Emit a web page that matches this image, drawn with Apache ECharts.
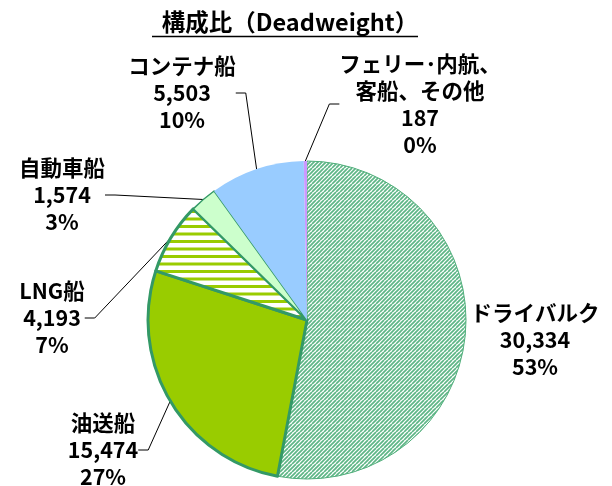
<!DOCTYPE html>
<html>
<head>
<meta charset="utf-8">
<script src="https://cdn.jsdelivr.net/npm/echarts@6/dist/echarts.min.js"></script>
<style>
html,body{margin:0;padding:0;background:#fff;}
#chart{width:612px;height:486px;}
</style>
</head>
<body>
<div id="chart"></div>
<script>
// ---- data ----
var categories = ['ドライバルク', '油送船', 'LNG船', '自動車船', 'コンテナ船', 'フェリー･内航、\n客船、その他'];
var values = [30334, 15474, 4193, 1574, 5503, 187];
var titleText = '構成比（Deadweight）';

// ---- layout (label block centres) ----
var labelPos = [[535, 340], [103, 450], [52, 318], [62, 195], [182, 93], [420, 104]];

function makePattern(kind) {
  var c = document.createElement('canvas');
  var ctx = c.getContext('2d');
  if (kind === 'diag') {
    c.width = 8; c.height = 8;
    ctx.fillStyle = '#ffffff'; ctx.fillRect(0, 0, 8, 8);
    ctx.strokeStyle = '#5db585'; ctx.lineWidth = 1.7;
    for (var o = -8; o <= 16; o += 4) {
      ctx.beginPath(); ctx.moveTo(o, 8); ctx.lineTo(o + 8, 0); ctx.stroke();
    }
  } else {
    c.width = 8; c.height = 15;
    ctx.fillStyle = '#ffffff'; ctx.fillRect(0, 0, 8, 15);
    ctx.fillStyle = '#99cc00';
    ctx.fillRect(0, 0, 8, 3);
    ctx.fillRect(0, 7.5, 8, 3);
  }
  return c;
}

var styles = [
  { color: { image: makePattern('diag'), repeat: 'repeat' }, borderColor: '#4fae7a', borderWidth: 1 },
  { color: '#99cc00', borderColor: '#339966', borderWidth: 3 },
  { color: { image: makePattern('horiz'), repeat: 'repeat' }, borderColor: '#339966', borderWidth: 3 },
  { color: '#ccffcc', borderColor: '#339966', borderWidth: 1.5 },
  { color: '#99ccff', borderWidth: 0 },
  { color: '#cc99ff', borderWidth: 0 }
];

var seriesData = categories.map(function (n, i) {
  return {
    name: n,
    value: values[i],
    itemStyle: styles[i],
    labelLine: { show: i !== 0 }
  };
});

var chart = echarts.init(document.getElementById('chart'), null, { renderer: 'canvas' });
chart.setOption({
  animation: false,
  title: {
    text: titleText,
    left: 285,
    top: 5,
    textAlign: 'center',
    textStyle: { fontFamily: 'Noto Sans CJK JP', fontWeight: 'bold', fontSize: 23.5, color: '#000' }
  },
  graphic: [{
    type: 'line',
    shape: { x1: 152, y1: 36.5, x2: 418, y2: 36.5 },
    style: { stroke: '#000', lineWidth: 1.5 }
  }],
  series: [{
    type: 'pie',
    center: [307, 320],
    radius: 159,
    startAngle: 90,
    clockwise: true,
    percentPrecision: 0,
    data: seriesData,
    label: {
      show: true,
      position: 'outside',
      fontFamily: 'Noto Sans CJK JP',
      fontWeight: 'bold',
      fontSize: 21.5,
      lineHeight: 27,
      color: '#000',
      align: 'center',
      overflow: 'none',
      formatter: function (p) {
        return p.name + '\n' + p.value.toLocaleString('en-US') + '\n' + p.percent + '%';
      }
    },
    labelLine: {
      show: true,
      length: 10,
      length2: 10,
      lineStyle: { color: '#000', width: 1 }
    },
    labelLayout: function (params) {
      var pos = labelPos[params.dataIndex];
      return { x: pos[0], y: pos[1], align: 'center', verticalAlign: 'middle', hideOverlap: false, moveOverlap: false };
    },
    emphasis: { disabled: true }
  }]
});
</script>
</body>
</html>
